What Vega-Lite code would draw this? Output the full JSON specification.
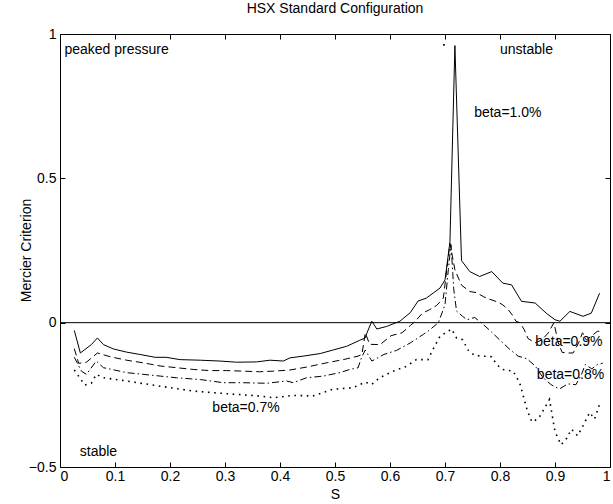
{
  "$schema": "https://vega.github.io/schema/vega-lite/v6.json",
  "autosize": {"type": "none"},
  "padding": {"left": 60, "top": 34, "right": 3, "bottom": 37},
  "width": 550,
  "height": 433,
  "background": "white",
  "title": {"text": "HSX Standard Configuration", "font": "Liberation Sans", "fontSize": 14, "fontWeight": "normal", "color": "black", "anchor": "middle", "baseline": "bottom", "offset": 12, "dy": 15},
  "config": {
    "view": {"stroke": "black", "strokeWidth": 1},
    "font": "Liberation Sans",
    "axis": {"grid": false, "domain": false, "tickColor": "black", "labelColor": "black", "titleColor": "black", "labelFont": "Liberation Sans", "titleFont": "Liberation Sans", "labelFontSize": 14, "titleFontSize": 14, "titleFontWeight": "normal", "tickSize": -5, "tickWidth": 1}
  },
  "resolve": {"axis": {"x": "independent", "y": "independent"}},
  "datasets": {
    "curves": [
      {"beta": "1.0", "s": 0.026, "m": -0.027},
      {"beta": "1.0", "s": 0.037, "m": -0.105},
      {"beta": "1.0", "s": 0.057, "m": -0.076},
      {"beta": "1.0", "s": 0.068, "m": -0.053},
      {"beta": "1.0", "s": 0.079, "m": -0.076},
      {"beta": "1.0", "s": 0.097, "m": -0.091},
      {"beta": "1.0", "s": 0.121, "m": -0.102},
      {"beta": "1.0", "s": 0.145, "m": -0.11},
      {"beta": "1.0", "s": 0.173, "m": -0.12},
      {"beta": "1.0", "s": 0.193, "m": -0.12},
      {"beta": "1.0", "s": 0.218, "m": -0.128},
      {"beta": "1.0", "s": 0.255, "m": -0.13},
      {"beta": "1.0", "s": 0.291, "m": -0.133},
      {"beta": "1.0", "s": 0.321, "m": -0.137},
      {"beta": "1.0", "s": 0.357, "m": -0.136},
      {"beta": "1.0", "s": 0.382, "m": -0.13},
      {"beta": "1.0", "s": 0.406, "m": -0.133},
      {"beta": "1.0", "s": 0.418, "m": -0.122},
      {"beta": "1.0", "s": 0.442, "m": -0.116},
      {"beta": "1.0", "s": 0.473, "m": -0.107},
      {"beta": "1.0", "s": 0.496, "m": -0.095},
      {"beta": "1.0", "s": 0.521, "m": -0.082},
      {"beta": "1.0", "s": 0.545, "m": -0.061},
      {"beta": "1.0", "s": 0.555, "m": -0.053},
      {"beta": "1.0", "s": 0.558, "m": -0.036},
      {"beta": "1.0", "s": 0.567, "m": 0.005},
      {"beta": "1.0", "s": 0.576, "m": -0.022},
      {"beta": "1.0", "s": 0.594, "m": -0.013},
      {"beta": "1.0", "s": 0.618, "m": 0.005},
      {"beta": "1.0", "s": 0.637, "m": 0.035},
      {"beta": "1.0", "s": 0.651, "m": 0.075},
      {"beta": "1.0", "s": 0.666, "m": 0.085},
      {"beta": "1.0", "s": 0.691, "m": 0.12},
      {"beta": "1.0", "s": 0.700, "m": 0.148},
      {"beta": "1.0", "s": 0.709, "m": 0.28},
      {"beta": "1.0", "s": 0.718, "m": 0.96},
      {"beta": "1.0", "s": 0.730, "m": 0.215},
      {"beta": "1.0", "s": 0.745, "m": 0.177},
      {"beta": "1.0", "s": 0.763, "m": 0.16},
      {"beta": "1.0", "s": 0.785, "m": 0.177},
      {"beta": "1.0", "s": 0.805, "m": 0.137},
      {"beta": "1.0", "s": 0.821, "m": 0.131},
      {"beta": "1.0", "s": 0.839, "m": 0.074},
      {"beta": "1.0", "s": 0.864, "m": 0.068},
      {"beta": "1.0", "s": 0.884, "m": 0.033},
      {"beta": "1.0", "s": 0.900, "m": 0.01},
      {"beta": "1.0", "s": 0.909, "m": 0.005},
      {"beta": "1.0", "s": 0.927, "m": 0.039},
      {"beta": "1.0", "s": 0.951, "m": 0.022},
      {"beta": "1.0", "s": 0.966, "m": 0.033},
      {"beta": "1.0", "s": 0.981, "m": 0.102},
      {"beta": "0.9", "s": 0.026, "m": -0.09},
      {"beta": "0.9", "s": 0.034, "m": -0.141},
      {"beta": "0.9", "s": 0.048, "m": -0.137},
      {"beta": "0.9", "s": 0.068, "m": -0.105},
      {"beta": "0.9", "s": 0.091, "m": -0.118},
      {"beta": "0.9", "s": 0.121, "m": -0.13},
      {"beta": "0.9", "s": 0.151, "m": -0.139},
      {"beta": "0.9", "s": 0.182, "m": -0.15},
      {"beta": "0.9", "s": 0.212, "m": -0.156},
      {"beta": "0.9", "s": 0.242, "m": -0.162},
      {"beta": "0.9", "s": 0.272, "m": -0.166},
      {"beta": "0.9", "s": 0.303, "m": -0.166},
      {"beta": "0.9", "s": 0.334, "m": -0.168},
      {"beta": "0.9", "s": 0.363, "m": -0.17},
      {"beta": "0.9", "s": 0.388, "m": -0.168},
      {"beta": "0.9", "s": 0.418, "m": -0.164},
      {"beta": "0.9", "s": 0.448, "m": -0.154},
      {"beta": "0.9", "s": 0.485, "m": -0.139},
      {"beta": "0.9", "s": 0.515, "m": -0.128},
      {"beta": "0.9", "s": 0.542, "m": -0.116},
      {"beta": "0.9", "s": 0.549, "m": -0.11},
      {"beta": "0.9", "s": 0.555, "m": -0.035},
      {"beta": "0.9", "s": 0.563, "m": -0.075},
      {"beta": "0.9", "s": 0.582, "m": -0.076},
      {"beta": "0.9", "s": 0.602, "m": -0.045},
      {"beta": "0.9", "s": 0.622, "m": -0.035},
      {"beta": "0.9", "s": 0.637, "m": -0.01},
      {"beta": "0.9", "s": 0.646, "m": 0.005},
      {"beta": "0.9", "s": 0.659, "m": 0.033},
      {"beta": "0.9", "s": 0.672, "m": 0.045},
      {"beta": "0.9", "s": 0.685, "m": 0.06},
      {"beta": "0.9", "s": 0.697, "m": 0.085},
      {"beta": "0.9", "s": 0.709, "m": 0.275},
      {"beta": "0.9", "s": 0.718, "m": 0.183},
      {"beta": "0.9", "s": 0.730, "m": 0.13},
      {"beta": "0.9", "s": 0.745, "m": 0.108},
      {"beta": "0.9", "s": 0.757, "m": 0.104},
      {"beta": "0.9", "s": 0.770, "m": 0.09},
      {"beta": "0.9", "s": 0.780, "m": 0.082},
      {"beta": "0.9", "s": 0.795, "m": 0.072},
      {"beta": "0.9", "s": 0.805, "m": 0.062},
      {"beta": "0.9", "s": 0.815, "m": 0.045},
      {"beta": "0.9", "s": 0.823, "m": 0.025},
      {"beta": "0.9", "s": 0.829, "m": 0.005},
      {"beta": "0.9", "s": 0.836, "m": 0.0},
      {"beta": "0.9", "s": 0.844, "m": -0.024},
      {"beta": "0.9", "s": 0.851, "m": -0.055},
      {"beta": "0.9", "s": 0.864, "m": -0.07},
      {"beta": "0.9", "s": 0.876, "m": -0.06},
      {"beta": "0.9", "s": 0.888, "m": -0.035},
      {"beta": "0.9", "s": 0.898, "m": 0.0},
      {"beta": "0.9", "s": 0.906, "m": -0.07},
      {"beta": "0.9", "s": 0.913, "m": -0.103},
      {"beta": "0.9", "s": 0.923, "m": -0.105},
      {"beta": "0.9", "s": 0.933, "m": -0.105},
      {"beta": "0.9", "s": 0.943, "m": -0.07},
      {"beta": "0.9", "s": 0.950, "m": -0.035},
      {"beta": "0.9", "s": 0.957, "m": -0.06},
      {"beta": "0.9", "s": 0.967, "m": -0.045},
      {"beta": "0.9", "s": 0.977, "m": -0.03},
      {"beta": "0.9", "s": 0.984, "m": -0.03},
      {"beta": "0.8", "s": 0.026, "m": -0.12},
      {"beta": "0.8", "s": 0.039, "m": -0.168},
      {"beta": "0.8", "s": 0.048, "m": -0.179},
      {"beta": "0.8", "s": 0.066, "m": -0.133},
      {"beta": "0.8", "s": 0.079, "m": -0.156},
      {"beta": "0.8", "s": 0.121, "m": -0.173},
      {"beta": "0.8", "s": 0.151, "m": -0.179},
      {"beta": "0.8", "s": 0.182, "m": -0.185},
      {"beta": "0.8", "s": 0.212, "m": -0.191},
      {"beta": "0.8", "s": 0.255, "m": -0.197},
      {"beta": "0.8", "s": 0.297, "m": -0.208},
      {"beta": "0.8", "s": 0.334, "m": -0.208},
      {"beta": "0.8", "s": 0.376, "m": -0.21},
      {"beta": "0.8", "s": 0.412, "m": -0.202},
      {"beta": "0.8", "s": 0.424, "m": -0.208},
      {"beta": "0.8", "s": 0.448, "m": -0.191},
      {"beta": "0.8", "s": 0.479, "m": -0.185},
      {"beta": "0.8", "s": 0.509, "m": -0.173},
      {"beta": "0.8", "s": 0.527, "m": -0.162},
      {"beta": "0.8", "s": 0.542, "m": -0.156},
      {"beta": "0.8", "s": 0.548, "m": -0.122},
      {"beta": "0.8", "s": 0.555, "m": -0.095},
      {"beta": "0.8", "s": 0.567, "m": -0.133},
      {"beta": "0.8", "s": 0.572, "m": -0.128},
      {"beta": "0.8", "s": 0.589, "m": -0.11},
      {"beta": "0.8", "s": 0.612, "m": -0.096},
      {"beta": "0.8", "s": 0.637, "m": -0.07},
      {"beta": "0.8", "s": 0.646, "m": -0.059},
      {"beta": "0.8", "s": 0.661, "m": -0.04},
      {"beta": "0.8", "s": 0.669, "m": -0.03},
      {"beta": "0.8", "s": 0.688, "m": 0.0},
      {"beta": "0.8", "s": 0.700, "m": 0.062},
      {"beta": "0.8", "s": 0.706, "m": 0.183},
      {"beta": "0.8", "s": 0.711, "m": 0.27},
      {"beta": "0.8", "s": 0.716, "m": 0.114},
      {"beta": "0.8", "s": 0.721, "m": 0.04},
      {"beta": "0.8", "s": 0.732, "m": 0.022},
      {"beta": "0.8", "s": 0.740, "m": 0.01},
      {"beta": "0.8", "s": 0.754, "m": 0.018},
      {"beta": "0.8", "s": 0.770, "m": -0.007},
      {"beta": "0.8", "s": 0.785, "m": -0.033},
      {"beta": "0.8", "s": 0.799, "m": -0.059},
      {"beta": "0.8", "s": 0.818, "m": -0.093},
      {"beta": "0.8", "s": 0.833, "m": -0.116},
      {"beta": "0.8", "s": 0.849, "m": -0.125},
      {"beta": "0.8", "s": 0.864, "m": -0.15},
      {"beta": "0.8", "s": 0.878, "m": -0.19},
      {"beta": "0.8", "s": 0.893, "m": -0.215},
      {"beta": "0.8", "s": 0.908, "m": -0.23},
      {"beta": "0.8", "s": 0.923, "m": -0.212},
      {"beta": "0.8", "s": 0.938, "m": -0.215},
      {"beta": "0.8", "s": 0.948, "m": -0.18},
      {"beta": "0.8", "s": 0.955, "m": -0.145},
      {"beta": "0.8", "s": 0.967, "m": -0.16},
      {"beta": "0.8", "s": 0.977, "m": -0.145},
      {"beta": "0.8", "s": 0.987, "m": -0.14},
      {"beta": "0.7", "s": 0.026, "m": -0.164},
      {"beta": "0.7", "s": 0.045, "m": -0.216},
      {"beta": "0.7", "s": 0.057, "m": -0.21},
      {"beta": "0.7", "s": 0.066, "m": -0.179},
      {"beta": "0.7", "s": 0.079, "m": -0.191},
      {"beta": "0.7", "s": 0.121, "m": -0.202},
      {"beta": "0.7", "s": 0.182, "m": -0.22},
      {"beta": "0.7", "s": 0.242, "m": -0.237},
      {"beta": "0.7", "s": 0.303, "m": -0.246},
      {"beta": "0.7", "s": 0.363, "m": -0.254},
      {"beta": "0.7", "s": 0.388, "m": -0.26},
      {"beta": "0.7", "s": 0.424, "m": -0.252},
      {"beta": "0.7", "s": 0.460, "m": -0.254},
      {"beta": "0.7", "s": 0.496, "m": -0.231},
      {"beta": "0.7", "s": 0.533, "m": -0.225},
      {"beta": "0.7", "s": 0.555, "m": -0.206},
      {"beta": "0.7", "s": 0.567, "m": -0.214},
      {"beta": "0.7", "s": 0.581, "m": -0.191},
      {"beta": "0.7", "s": 0.606, "m": -0.168},
      {"beta": "0.7", "s": 0.630, "m": -0.151},
      {"beta": "0.7", "s": 0.648, "m": -0.128},
      {"beta": "0.7", "s": 0.669, "m": -0.128},
      {"beta": "0.7", "s": 0.678, "m": -0.093},
      {"beta": "0.7", "s": 0.691, "m": -0.047},
      {"beta": "0.7", "s": 0.712, "m": -0.022},
      {"beta": "0.7", "s": 0.721, "m": -0.053},
      {"beta": "0.7", "s": 0.732, "m": -0.059},
      {"beta": "0.7", "s": 0.742, "m": -0.095},
      {"beta": "0.7", "s": 0.754, "m": -0.114},
      {"beta": "0.7", "s": 0.785, "m": -0.118},
      {"beta": "0.7", "s": 0.794, "m": -0.145},
      {"beta": "0.7", "s": 0.805, "m": -0.162},
      {"beta": "0.7", "s": 0.824, "m": -0.168},
      {"beta": "0.7", "s": 0.836, "m": -0.21},
      {"beta": "0.7", "s": 0.849, "m": -0.3},
      {"beta": "0.7", "s": 0.858, "m": -0.344},
      {"beta": "0.7", "s": 0.870, "m": -0.332},
      {"beta": "0.7", "s": 0.878, "m": -0.306},
      {"beta": "0.7", "s": 0.890, "m": -0.266},
      {"beta": "0.7", "s": 0.900, "m": -0.378},
      {"beta": "0.7", "s": 0.911, "m": -0.423},
      {"beta": "0.7", "s": 0.921, "m": -0.401},
      {"beta": "0.7", "s": 0.930, "m": -0.369},
      {"beta": "0.7", "s": 0.941, "m": -0.392},
      {"beta": "0.7", "s": 0.951, "m": -0.357},
      {"beta": "0.7", "s": 0.963, "m": -0.311},
      {"beta": "0.7", "s": 0.972, "m": -0.334},
      {"beta": "0.7", "s": 0.983, "m": -0.271}
    ],
    "labels": [
      {"s": 0.008, "m": 0.945, "text": "peaked pressure"},
      {"s": 0.800, "m": 0.945, "text": "unstable"},
      {"s": 0.753, "m": 0.726, "text": "beta=1.0%"},
      {"s": 0.864, "m": -0.067, "text": "beta=0.9%"},
      {"s": 0.867, "m": -0.182, "text": "beta=0.8%"},
      {"s": 0.277, "m": -0.295, "text": "beta=0.7%"},
      {"s": 0.036, "m": -0.447, "text": "stable"}
    ],
    "stray": [
      {"s": 0.698, "m": 0.962}
    ],
    "zero": [
      {"m": 0}
    ]
  },
  "layer": [
    {
      "data": {"name": "curves"},
      "transform": [{"filter": "datum.beta === '1.0'"}],
      "mark": {"type": "line", "color": "black", "strokeWidth": 1},
      "encoding": {
        "x": {"field": "s", "type": "quantitative", "scale": {"domain": [0, 1], "nice": false, "zero": false},
              "axis": {"orient": "bottom", "title": "S", "values": [0, 0.1, 0.2, 0.3, 0.4, 0.5, 0.6, 0.7, 0.8, 0.9, 1], "format": "~g", "labelPadding": 7, "titleY": 27, "titleBaseline": "middle"}},
        "y": {"field": "m", "type": "quantitative", "scale": {"domain": [-0.5, 1], "nice": false, "zero": false},
              "axis": {"orient": "left", "title": "Mercier Criterion", "values": [-0.5, 0, 0.5, 1], "format": "~g", "labelPadding": 9, "titleX": -34, "titleY": 216, "titleAngle": -90, "titleAlign": "center", "titleBaseline": "middle"}}
      }
    },
    {
      "data": {"name": "curves"},
      "transform": [{"filter": "datum.beta === '0.9'"}],
      "mark": {"type": "line", "color": "black", "strokeWidth": 1, "strokeDash": [7, 4]},
      "encoding": {"x": {"field": "s", "type": "quantitative", "axis": null}, "y": {"field": "m", "type": "quantitative", "axis": null}}
    },
    {
      "data": {"name": "curves"},
      "transform": [{"filter": "datum.beta === '0.8'"}],
      "mark": {"type": "line", "color": "black", "strokeWidth": 1, "strokeDash": [7, 3, 1.5, 3]},
      "encoding": {"x": {"field": "s", "type": "quantitative", "axis": null}, "y": {"field": "m", "type": "quantitative", "axis": null}}
    },
    {
      "data": {"name": "curves"},
      "transform": [{"filter": "datum.beta === '0.7'"}],
      "mark": {"type": "line", "color": "black", "strokeWidth": 1.6, "strokeDash": [1.6, 4.6]},
      "encoding": {"x": {"field": "s", "type": "quantitative", "axis": null}, "y": {"field": "m", "type": "quantitative", "axis": null}}
    },
    {
      "data": {"name": "stray"},
      "mark": {"type": "square", "color": "black", "size": 3, "opacity": 1},
      "encoding": {
        "x": {"field": "s", "type": "quantitative", "axis": {"orient": "top", "labels": false, "title": null, "values": [0, 0.1, 0.2, 0.3, 0.4, 0.5, 0.6, 0.7, 0.8, 0.9, 1]}},
        "y": {"field": "m", "type": "quantitative", "axis": {"orient": "right", "labels": false, "title": null, "values": [-0.5, 0, 0.5, 1]}}
      }
    },
    {
      "data": {"name": "zero"},
      "mark": {"type": "rule", "color": "black", "strokeWidth": 1},
      "encoding": {"y": {"field": "m", "type": "quantitative", "axis": null}}
    },
    {
      "data": {"name": "labels"},
      "mark": {"type": "text", "align": "left", "baseline": "middle", "font": "Liberation Sans", "fontSize": 14, "color": "black"},
      "encoding": {
        "x": {"field": "s", "type": "quantitative", "axis": null},
        "y": {"field": "m", "type": "quantitative", "axis": null},
        "text": {"field": "text"}
      }
    }
  ]
}
